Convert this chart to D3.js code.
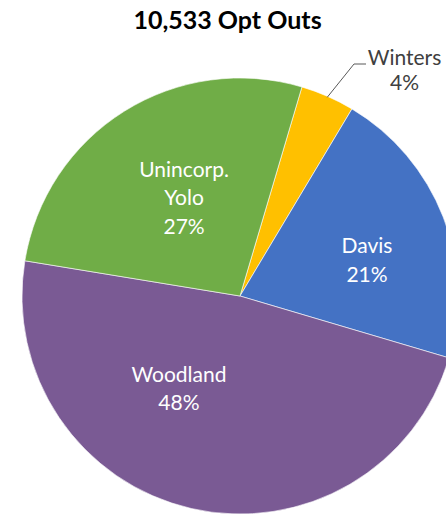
<!DOCTYPE html>
<html>
<head>
<meta charset="utf-8">
<script src="https://cdn.jsdelivr.net/npm/d3@7"></script>
<style>
  html, body { margin: 0; padding: 0; background: #fff; }
  svg { display: block; }
</style>
</head>
<body>
<svg id="chart" width="446" height="515"></svg>
<script>
// Opt-out share by area (percent of 10,533)
const areas = ["Winters", "Davis", "Woodland", "Unincorp. Yolo"];
const shares = [4, 21, 48, 27];
const colors = ["#FFC000", "#4472C4", "#7A5A94", "#70AD47"];
const titleText = "10,533 Opt Outs";

// Label placement: polar offsets (degrees clockwise from 12 o'clock, fraction of radius)
const labelAngles = [null, 74.4, 213.3, 330.2];
const labelRadii = [null, 0.605, 0.51, 0.516];

const svg = d3.select("#chart");
const cx = 240, cy = 296, R = 218;
const startDeg = 16.5;
const font = "Lato, 'Open Sans', sans-serif";

svg.append("text")
  .attr("x", 227.5)
  .attr("y", 29)
  .attr("text-anchor", "middle")
  .attr("font-family", font)
  .attr("font-weight", "bold")
  .attr("font-size", 25)
  .attr("fill", "#000")
  .text(titleText);

const data = areas.map((name, i) => ({ name, value: shares[i], color: colors[i] }));

const pie = d3.pie()
  .value(d => d.value)
  .sort(null)
  .startAngle(startDeg * Math.PI / 180)
  .endAngle(startDeg * Math.PI / 180 + 2 * Math.PI);

const arc = d3.arc().innerRadius(0).outerRadius(R);
const arcs = pie(data);

const g = svg.append("g").attr("transform", `translate(${cx},${cy})`);

g.selectAll("path.slice")
  .data(arcs)
  .join("path")
  .attr("class", "slice")
  .attr("d", arc)
  .attr("fill", d => d.data.color)
  .attr("stroke", "#fff")
  .attr("stroke-width", 0.6);

const fmt = d => d3.format(".0f")(d.value) + "%";
const lineH = 28.5;

function polar(deg, r) {
  const a = deg * Math.PI / 180;
  return [Math.sin(a) * r, -Math.cos(a) * r];
}

// Labels inside the slices
arcs.forEach((d, i) => {
  if (labelAngles[i] == null) return;
  const [x, y] = polar(labelAngles[i], labelRadii[i] * R);
  const lines = d.data.name.split(" ").concat([fmt(d.data)]);
  const t = g.append("text")
    .attr("text-anchor", "middle")
    .attr("font-family", font)
    .attr("font-size", 21)
    .attr("fill", "#fff");
  const y0 = y - (lines.length - 1) * lineH / 2 + 7;
  lines.forEach((ln, k) => {
    t.append("tspan").attr("x", x).attr("y", y0 + k * lineH).text(ln);
  });
});

// Winters: outside label with leader line
{
  const d = arcs[0];
  const mid = (d.startAngle + d.endAngle) / 2;
  const p0 = [Math.sin(mid) * (R - 1), -Math.cos(mid) * (R - 1)];
  const labelX = 404.5 - cx, labelY = 65 - cy;
  const elbow = [354 - cx, 64 - cy];
  const end = [366 - cx, 64 - cy];
  g.append("path")
    .attr("d", d3.line()([p0, elbow, end]))
    .attr("fill", "none")
    .attr("stroke", "#595959")
    .attr("stroke-width", 1);
  const t = g.append("text")
    .attr("text-anchor", "middle")
    .attr("font-family", font)
    .attr("font-size", 21)
    .attr("fill", "#404040");
  t.append("tspan").attr("x", labelX).attr("y", labelY).text(d.data.name);
  t.append("tspan").attr("x", labelX).attr("y", labelY + 25).text(fmt(d.data));
}
</script>
</body>
</html>
